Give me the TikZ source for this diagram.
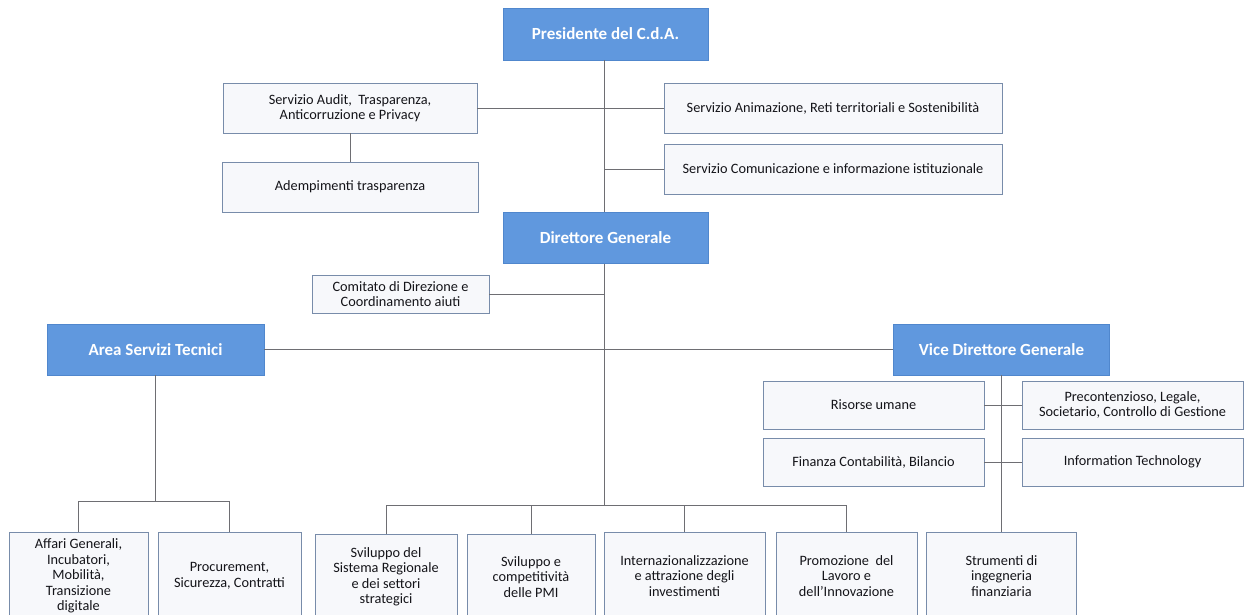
\documentclass[tikz,border=0pt]{standalone}
\usepackage{fontspec}
\setmainfont{Carlito}
\definecolor{bluefill}{RGB}{96,152,222}
\definecolor{blueedge}{RGB}{80,135,205}
\definecolor{boxfill}{RGB}{247,248,251}
\definecolor{boxedge}{RGB}{120,140,170}
\definecolor{linec}{RGB}{110,110,115}
\definecolor{txt}{RGB}{20,20,25}
\tikzset{
  head/.style={draw=blueedge, fill=bluefill, line width=0.6pt, text=white, font=\bfseries\fontsize{17}{19}\selectfont, align=center, inner sep=2pt},
  unit/.style={draw=boxedge, fill=boxfill, line width=0.6pt, text=txt, font=\fontsize{14.3}{15.5}\selectfont, align=center, inner sep=2pt},
  conn/.style={draw=linec, line width=0.8pt}
}
\begin{document}
\begin{tikzpicture}[x=1pt,y=-1pt]
\useasboundingbox (0,0) rectangle (1244,615);
\clip (0,0) rectangle (1244,615);
\fill[white] (0,0) rectangle (1244,615);
% top level
\node[head, minimum width=205pt, minimum height=52pt] (pres) at (605.5,34) {Presidente del C.d.A.};
\node[unit, minimum width=254pt, minimum height=50pt] (audit) at (350,108) {Servizio Audit,\ \ Trasparenza,\\Anticorruzione e Privacy};
\node[unit, minimum width=256pt, minimum height=50pt] (adem) at (350,187) {Adempimenti trasparenza};
\node[unit, minimum width=338pt, minimum height=50pt] (anim) at (833,108) {Servizio Animazione, Reti territoriali e Sostenibilità};
\node[unit, minimum width=338pt, minimum height=50pt] (comu) at (833,169) {Servizio Comunicazione e informazione istituzionale};
\node[head, minimum width=205pt, minimum height=51pt] (dir) at (605.5,238) {Direttore Generale};
\node[unit, minimum width=177pt, minimum height=38pt] (comi) at (400.5,294) {Comitato di Direzione e\\Coordinamento aiuti};
\node[head, minimum width=217pt, minimum height=51pt] (area) at (155.5,349.5) {Area Servizi Tecnici};
\node[head, minimum width=216pt, minimum height=51pt] (vice) at (1001.5,349.5) {Vice Direttore Generale};
\node[unit, minimum width=221pt, minimum height=48pt] (ris) at (873.5,405) {Risorse umane};
\node[unit, minimum width=221pt, minimum height=48pt] (prec) at (1132.5,405) {Precontenzioso, Legale,\\Societario, Controllo di Gestione};
\node[unit, minimum width=221pt, minimum height=48pt] (fin) at (873.5,462) {Finanza Contabilità, Bilancio};
\node[unit, minimum width=221pt, minimum height=48pt] (it) at (1132.5,462) {Information Technology};
% bottom row
\node[unit, minimum width=139pt, minimum height=88pt] (aff) at (78.5,576) {Affari Generali,\\Incubatori,\\Mobilità,\\Transizione\\digitale};
\node[unit, minimum width=143pt, minimum height=88pt] (proc) at (229.5,576) {Procurement,\\Sicurezza, Contratti};
\node[unit, minimum width=142pt, minimum height=86pt] (ssr) at (386,577) {Sviluppo del\\Sistema Regionale\\e dei settori\\strategici};
\node[unit, minimum width=128pt, minimum height=86pt] (pmi) at (531,577) {Sviluppo e\\competitività\\delle PMI};
\node[unit, minimum width=161pt, minimum height=88pt] (inter) at (684.5,576) {Internazionalizzazione\\e attrazione degli\\investimenti};
\node[unit, minimum width=141pt, minimum height=88pt] (prom) at (846.5,576) {Promozione\ \ del\\Lavoro e\\dell'Innovazione};
\node[unit, minimum width=150pt, minimum height=88pt] (strum) at (1001.5,576) {Strumenti di\\ingegneria\\finanziaria};
% bus coordinates
\coordinate (busA) at (155.5,501);
\coordinate (busM) at (604,505);
% connectors
\draw[conn] (pres.south -| busM) -- (dir.north -| busM);
\draw[conn] (audit.east) -- (audit.east -| busM);
\draw[conn] (anim.west) -- (anim.west -| busM);
\draw[conn] (comu.west) -- (comu.west -| busM);
\draw[conn] (audit.south) -- (adem.north);
\draw[conn] (dir.south -| busM) -- (busM);
\draw[conn] (comi.east) -- (comi.east -| busM);
\draw[conn] (area.east) -- (vice.west);
\draw[conn] (area.south) -- (busA);
\draw[conn] (aff.north |- busA) -- (proc.north |- busA);
\draw[conn] (aff.north |- busA) -- (aff.north);
\draw[conn] (proc.north |- busA) -- (proc.north);
\draw[conn] (ssr.north |- busM) -- (prom.north |- busM);
\draw[conn] (ssr.north |- busM) -- (ssr.north);
\draw[conn] (pmi.north |- busM) -- (pmi.north);
\draw[conn] (inter.north |- busM) -- (inter.north);
\draw[conn] (prom.north |- busM) -- (prom.north);
\draw[conn] (vice.south) -- (strum.north);
\draw[conn] (ris.east) -- (prec.west);
\draw[conn] (fin.east) -- (it.west);
\end{tikzpicture}
\end{document}
